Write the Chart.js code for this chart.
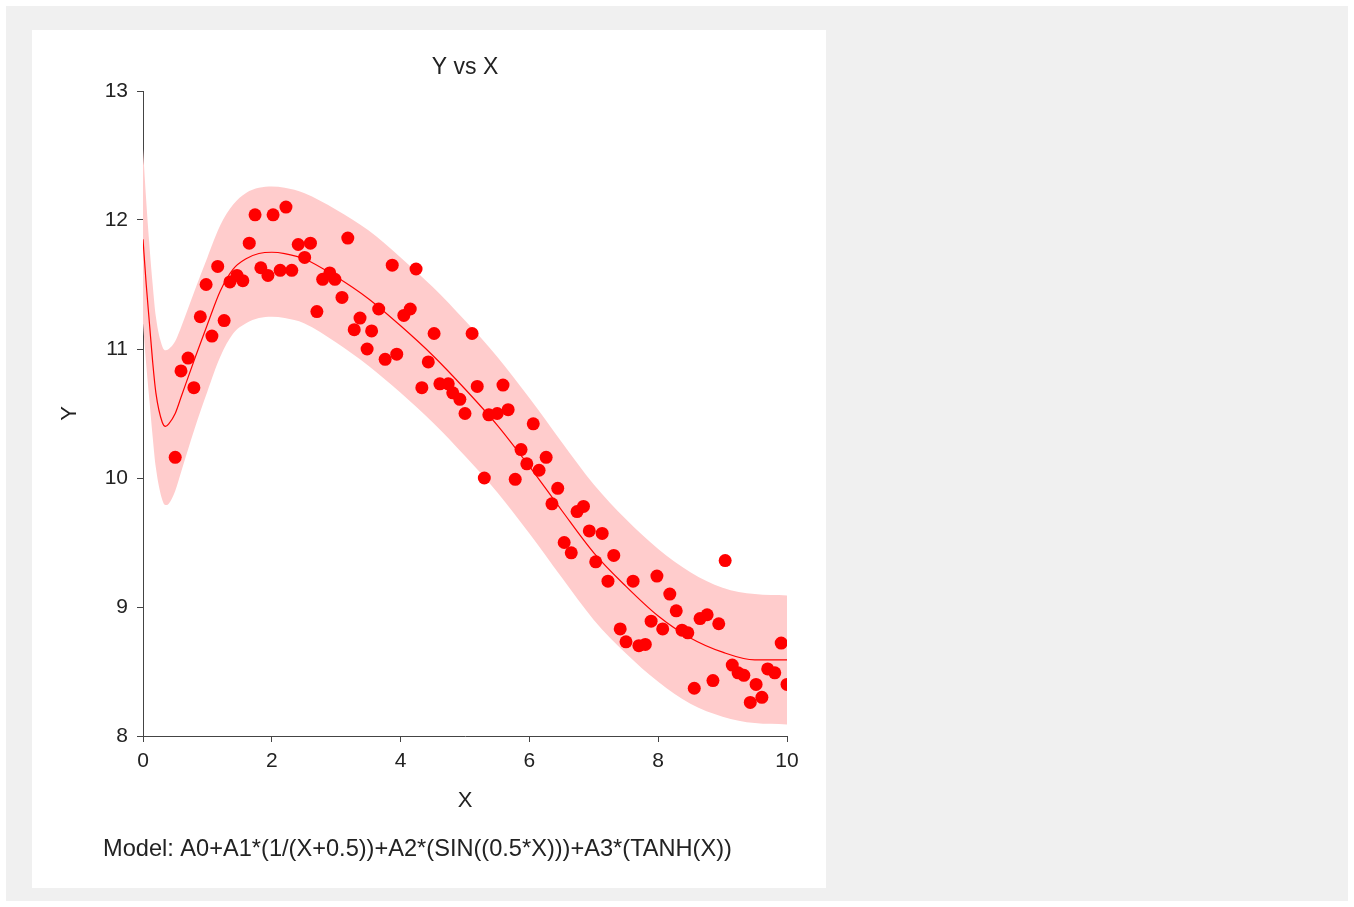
<!DOCTYPE html>
<html>
<head>
<meta charset="utf-8">
<script src="https://cdn.jsdelivr.net/npm/chart.js@4.4.1/dist/chart.umd.min.js"></script>
<style>
  html, body { margin: 0; padding: 0; background: #fff; }
  #bg { position: absolute; left: 6px; top: 6px; width: 1342px; height: 895px; background: #f0f0f0; }
  #panel { position: absolute; left: 32px; top: 30px; width: 794px; height: 858px; background: #fff; }
</style>
</head>
<body>
<div id="bg"></div>
<div id="panel"><canvas id="myChart"></canvas></div>
<script>
// observed points
const pointX = [0.50,0.59,0.70,0.79,0.89,0.98,1.07,1.16,1.26,1.35,
  1.46,1.55,1.65,1.74,1.83,1.94,2.02,2.13,2.22,2.31,
  2.41,2.51,2.60,2.70,2.79,2.90,2.98,3.09,3.18,3.28,
  3.37,3.48,3.55,3.66,3.76,3.87,3.94,4.05,4.15,4.24,
  4.33,4.43,4.52,4.61,4.74,4.81,4.92,5.00,5.11,5.19,
  5.30,5.37,5.50,5.59,5.67,5.78,5.87,5.96,6.06,6.15,
  6.26,6.35,6.44,6.54,6.65,6.74,6.84,6.93,7.03,7.13,
  7.22,7.31,7.41,7.50,7.61,7.70,7.80,7.89,7.98,8.07,
  8.18,8.28,8.37,8.46,8.56,8.65,8.76,8.85,8.94,9.04,
  9.15,9.24,9.33,9.43,9.52,9.61,9.70,9.81,9.91,10.00];
const pointY = [10.16,10.83,10.93,10.70,11.25,11.50,11.10,11.64,11.22,11.52,
  11.57,11.53,11.82,12.04,11.63,11.57,12.04,11.61,12.10,11.61,
  11.81,11.71,11.82,11.29,11.54,11.59,11.54,11.40,11.86,11.15,
  11.24,11.00,11.14,11.31,10.92,11.65,10.96,11.26,11.31,11.62,
  10.70,10.90,11.12,10.73,10.73,10.66,10.61,10.50,11.12,10.71,
  10.00,10.49,10.50,10.72,10.53,9.99,10.22,10.11,10.42,10.06,
  10.16,9.80,9.92,9.50,9.42,9.74,9.78,9.59,9.35,9.57,
  9.20,9.40,8.83,8.73,9.20,8.70,8.71,8.89,9.24,8.83,
  9.10,8.97,8.82,8.80,8.37,8.91,8.94,8.43,8.87,9.36,
  8.55,8.49,8.47,8.26,8.40,8.30,8.52,8.49,8.72,8.40];

// fitted curve and band
const curveX = [0,0.05,0.1,0.15,0.2,0.3,0.35,0.4,0.5,0.6,
  0.8,1.0,1.2,1.4,1.6,1.8,2.0,2.2,2.5,3.0,
  3.5,4.0,4.5,5.0,5.5,6.0,6.5,7.0,7.5,8.0,
  8.5,9.0,9.5,10];
const fitY = [11.85,11.50,11.20,10.90,10.66,10.43,10.40,10.42,10.50,10.64,
  10.92,11.19,11.45,11.62,11.70,11.74,11.75,11.74,11.70,11.56,
  11.39,11.18,10.95,10.69,10.41,10.09,9.75,9.42,9.16,8.93,
  8.76,8.65,8.59,8.59];
const upperY = [12.55,12.15,11.80,11.50,11.25,11.02,10.99,11.00,11.06,11.18,
  11.45,11.71,11.96,12.12,12.21,12.25,12.26,12.25,12.21,12.08,
  11.92,11.71,11.48,11.22,10.94,10.62,10.28,9.95,9.68,9.45,
  9.27,9.15,9.10,9.09];
const lowerY = [11.20,10.88,10.60,10.32,10.08,9.83,9.79,9.80,9.90,10.06,
  10.38,10.67,10.94,11.12,11.20,11.24,11.25,11.24,11.20,11.05,
  10.87,10.66,10.43,10.17,9.89,9.57,9.23,8.90,8.64,8.42,
  8.25,8.15,8.10,8.09];

const xTicks = [0,2,4,6,8,10];
const yTicks = [8,9,10,11,12,13];
const modelText = 'Model: A0+A1*(1/(X+0.5))+A2*(SIN((0.5*X)))+A3*(TANH(X))';

const FONT = 'Liberation Sans, Arial, sans-serif';
const INK = '#222';

const toXY = (xs, ys) => xs.map((x, i) => ({x: x, y: ys[i]}));

const modelLine = {
  id: 'modelLine',
  afterDraw(chart) {
    const ctx = chart.ctx;
    ctx.save();
    ctx.font = '23.6px ' + FONT;
    ctx.fillStyle = INK;
    ctx.textAlign = 'left';
    ctx.textBaseline = 'middle';
    ctx.fillText(modelText, 71, 819);
    ctx.restore();
  }
};

let myChart = document.getElementById('myChart').getContext('2d');

new Chart(myChart, {
  type: 'scatter',
  data: {
    datasets: [
      {
        label: 'Y',
        data: toXY(pointX, pointY),
        backgroundColor: '#ff0000',
        borderWidth: 0,
        pointRadius: 6.5,
        order: 0
      },
      {
        label: 'Fit',
        data: toXY(curveX, fitY),
        showLine: true,
        borderColor: '#ff0000',
        borderWidth: 1.2,
        pointRadius: 0,
        cubicInterpolationMode: 'monotone',
        order: 1
      },
      {
        label: 'Upper',
        data: toXY(curveX, upperY),
        showLine: true,
        borderWidth: 0,
        borderColor: 'rgba(0,0,0,0)',
        backgroundColor: '#ffcccc',
        pointRadius: 0,
        fill: '+1',
        cubicInterpolationMode: 'monotone',
        order: 2
      },
      {
        label: 'Lower',
        data: toXY(curveX, lowerY),
        showLine: true,
        borderWidth: 0,
        borderColor: 'rgba(0,0,0,0)',
        pointRadius: 0,
        cubicInterpolationMode: 'monotone',
        order: 3
      }
    ]
  },
  options: {
    responsive: true,
    maintainAspectRatio: false,
    animation: false,
    events: [],
    layout: {
      padding: { left: 0, right: 39, top: 0, bottom: 62 }
    },
    plugins: {
      legend: { display: false },
      tooltip: { enabled: false },
      title: {
        display: true,
        text: 'Y vs X',
        fullSize: false,
        color: INK,
        font: { family: FONT, size: 23, weight: 'normal' },
        padding: { top: 24.2, bottom: 9.2 }
      }
    },
    scales: {
      x: {
        type: 'linear',
        min: 0,
        max: 10,
        afterBuildTicks: s => { s.ticks = xTicks.map(v => ({value: v})); },
        afterFit: s => { s.height = 90; },
        grid: { drawOnChartArea: false, drawTicks: true, tickLength: 6, color: '#444' },
        border: { display: true, color: '#444', width: 1 },
        ticks: { color: INK, padding: 7, font: { family: FONT, size: 21 } },
        title: {
          display: true, text: 'X', color: INK,
          font: { family: FONT, size: 22 }, padding: { top: 18, bottom: 12 }
        }
      },
      y: {
        type: 'linear',
        min: 8,
        max: 13,
        afterBuildTicks: s => { s.ticks = yTicks.map(v => ({value: v})); },
        afterFit: s => { s.width = 111; },
        grid: { drawOnChartArea: false, drawTicks: true, tickLength: 6, color: '#444' },
        border: { display: true, color: '#444', width: 1 },
        ticks: { color: INK, padding: 9, font: { family: FONT, size: 21 } },
        title: {
          display: true, text: 'Y', color: INK,
          font: { family: FONT, size: 22 }, padding: { top: 25, bottom: 25 }
        }
      }
    }
  },
  plugins: [modelLine]
});
</script>
</body>
</html>
